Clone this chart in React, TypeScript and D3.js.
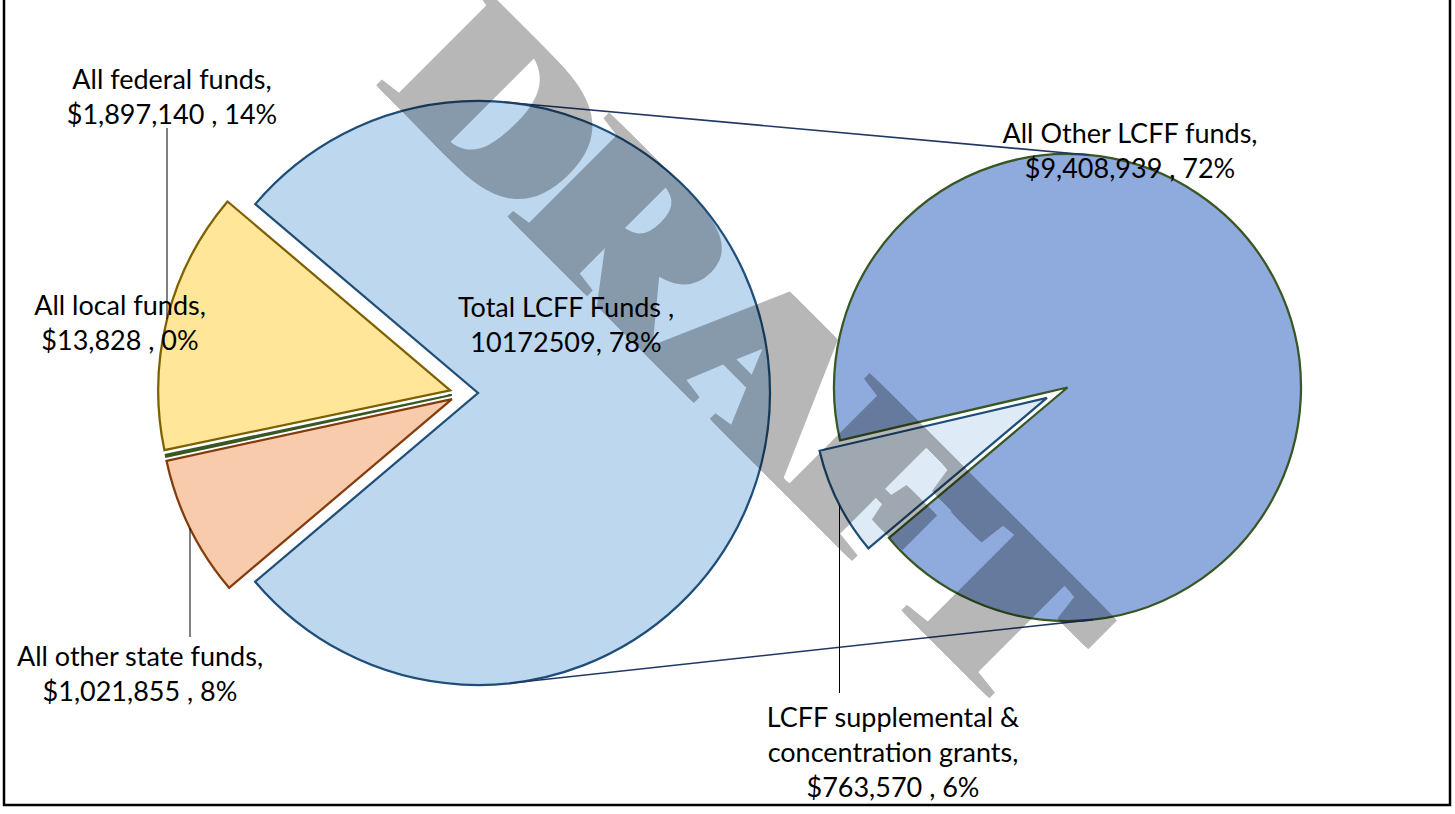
import React from "react";
import * as d3 from "d3";

// values
const mainNames = ["Total LCFF Funds ,", "All other state funds,", "All local funds,", "All federal funds,"];
const mainValues = [10172509, 1021855, 13828, 1897140];
const subNames = [["All Other LCFF funds,"], ["LCFF supplemental &", "concentration grants,"]];
const subValues = [9408939, 763570];

const W = 1455;
const H = 814;
const rad = (deg: number) => (deg * Math.PI) / 180;

const main = { cx: 478, cy: 393, r: 292, start: 310.3 };
const sub = { cx: 1067.5, cy: 387.5, r: 233.5, start: 256.9 };

const mainFill = ["#BDD7EE", "#F8CBAD", "#A9D18E", "#FFE699"];
const mainStroke = ["#1F4E79", "#843C0C", "#385723", "#7F6000"];
const subFill = ["#8FAADC", "#DEEBF7"];
const subStroke = ["#385723", "#1F4E79"];
// explosion: distance, direction (deg clockwise from 12 o'clock)
const mainExplode = [{ d: 0, a: 0 }, { d: 26.8, a: 256.8 }, { d: 26.4, a: 265.7 }, { d: 27.9, a: 275.5 }];
const subExplode = [{ d: 0, a: 0 }, { d: 23, a: 243.3 }];

const mainLabelPos = [{ x: 566, y: 317 }, { x: 140, y: 666 }, { x: 120, y: 315 }, { x: 172, y: 89 }];
const subLabelPos = [{ x: 1130, y: 143 }, { x: 893, y: 727 }];
const lineH = 35;

const grand = d3.sum(mainValues);
const pct = (v: number) => Math.round((v / grand) * 100) + "%";
const money = (v: number) => "$" + d3.format(",")(v);

function offset(e: { d: number; a: number }) {
  return { dx: e.d * Math.sin(rad(e.a)), dy: -e.d * Math.cos(rad(e.a)) };
}

// heavy watermark: the glyphs are smeared along the baseline to fatten the stems
const smear = d3.range(0, 30, 2);

export default function App() {
  const pieMain = d3.pie<number>().sort(null).startAngle(rad(main.start)).endAngle(rad(main.start + 360));
  const pieSub = d3.pie<number>().sort(null).startAngle(rad(sub.start)).endAngle(rad(sub.start + 360));
  const arcMain = d3.arc<d3.PieArcDatum<number>>().innerRadius(0).outerRadius(main.r);
  const arcSub = d3.arc<d3.PieArcDatum<number>>().innerRadius(0).outerRadius(sub.r);
  const mainArcs = pieMain(mainValues);
  const subArcs = pieSub(subValues);

  // external tangents between the two pies
  const ddx = sub.cx - main.cx, ddy = sub.cy - main.cy;
  const dist = Math.hypot(ddx, ddy);
  const phi = Math.atan2(ddy, ddx);
  const alpha = Math.acos((main.r - sub.r) / dist);
  const tangents = [phi - alpha, phi + alpha].map((t) => ({
    x1: main.cx + main.r * Math.cos(t),
    y1: main.cy + main.r * Math.sin(t),
    x2: sub.cx + sub.r * Math.cos(t),
    y2: sub.cy + sub.r * Math.sin(t),
  }));

  // leader lines: vertical, from label to slice edge
  const hitY = (cx: number, cy: number, r: number, x: number, up: boolean) =>
    cy + (up ? -1 : 1) * Math.sqrt(Math.max(0, r * r - (x - cx) * (x - cx)));
  const fed = offset(mainExplode[3]);
  const st = offset(mainExplode[1]);
  const sp = offset(subExplode[1]);
  const leaders = [
    { x: 167, y1: 128, y2: hitY(main.cx + fed.dx, main.cy + fed.dy, main.r, 167, true) },
    { x: 190, y1: hitY(main.cx + st.dx, main.cy + st.dy, main.r, 190, false), y2: 637 },
    { x: 839.5, y1: hitY(sub.cx + sp.dx, sub.cy + sp.dy, sub.r, 839.5, false), y2: 693 },
  ];

  const mainLines = mainValues.map((v, i) => [
    mainNames[i],
    i === 0 ? `${v}, ${pct(v)}` : `${money(v)} , ${pct(v)}`,
  ]);
  const subLines = subValues.map((v, i) => [...subNames[i], `${money(v)} , ${pct(v)}`]);

  const font = "Lato, 'Open Sans', sans-serif";

  return (
    <svg width={W} height={H} style={{ position: "absolute", left: 0, top: 0, background: "#fff" }}>
      <rect x={0} y={0} width={W} height={H} fill="#fff" />
      <g>
        {mainArcs.map((a, i) => {
          const o = offset(mainExplode[i]);
          return (
            <path
              key={i}
              d={arcMain(a) || ""}
              transform={`translate(${main.cx + o.dx},${main.cy + o.dy})`}
              fill={mainFill[i]}
              stroke={mainStroke[i]}
              strokeWidth={2.25}
            />
          );
        })}
      </g>
      <g>
        {subArcs.map((a, i) => {
          const o = offset(subExplode[i]);
          return (
            <path
              key={i}
              d={arcSub(a) || ""}
              transform={`translate(${sub.cx + o.dx},${sub.cy + o.dy})`}
              fill={subFill[i]}
              stroke={subStroke[i]}
              strokeWidth={2.25}
            />
          );
        })}
      </g>
      {tangents.map((t, i) => (
        <line key={i} {...t} stroke="#203864" strokeWidth={1.6} />
      ))}
      {leaders.map((l, i) => (
        <line key={i} x1={l.x} x2={l.x} y1={l.y1} y2={l.y2} stroke="#000" strokeWidth={1} />
      ))}
      <g fontFamily={font} fontSize={27} fill="#000" textAnchor="middle">
        {mainLines.map((lines, i) => (
          <text key={i} x={mainLabelPos[i].x} y={mainLabelPos[i].y}>
            {lines.map((s, j) => (
              <tspan key={j} x={mainLabelPos[i].x} dy={j === 0 ? 0 : lineH}>
                {s}
              </tspan>
            ))}
          </text>
        ))}
        {subLines.map((lines, i) => (
          <text key={i} x={subLabelPos[i].x} y={subLabelPos[i].y}>
            {lines.map((s, j) => (
              <tspan key={j} x={subLabelPos[i].x} dy={j === 0 ? 0 : lineH}>
                {s}
              </tspan>
            ))}
          </text>
        ))}
      </g>
      <g opacity={0.28} transform="translate(373,82) rotate(45) scale(1.149,1)">
        {smear.map((k) => (
          <text
            key={k}
            x={k}
            y={0}
            fontFamily="'Liberation Serif', 'Times New Roman', serif"
            fontWeight="bold"
            fontSize={222}
            fill="#000"
          >
            DRAFT
          </text>
        ))}
      </g>
      <rect x={4} y={-20} width={1446} height={825} fill="none" stroke="#000" strokeWidth={2.5} />
    </svg>
  );
}
